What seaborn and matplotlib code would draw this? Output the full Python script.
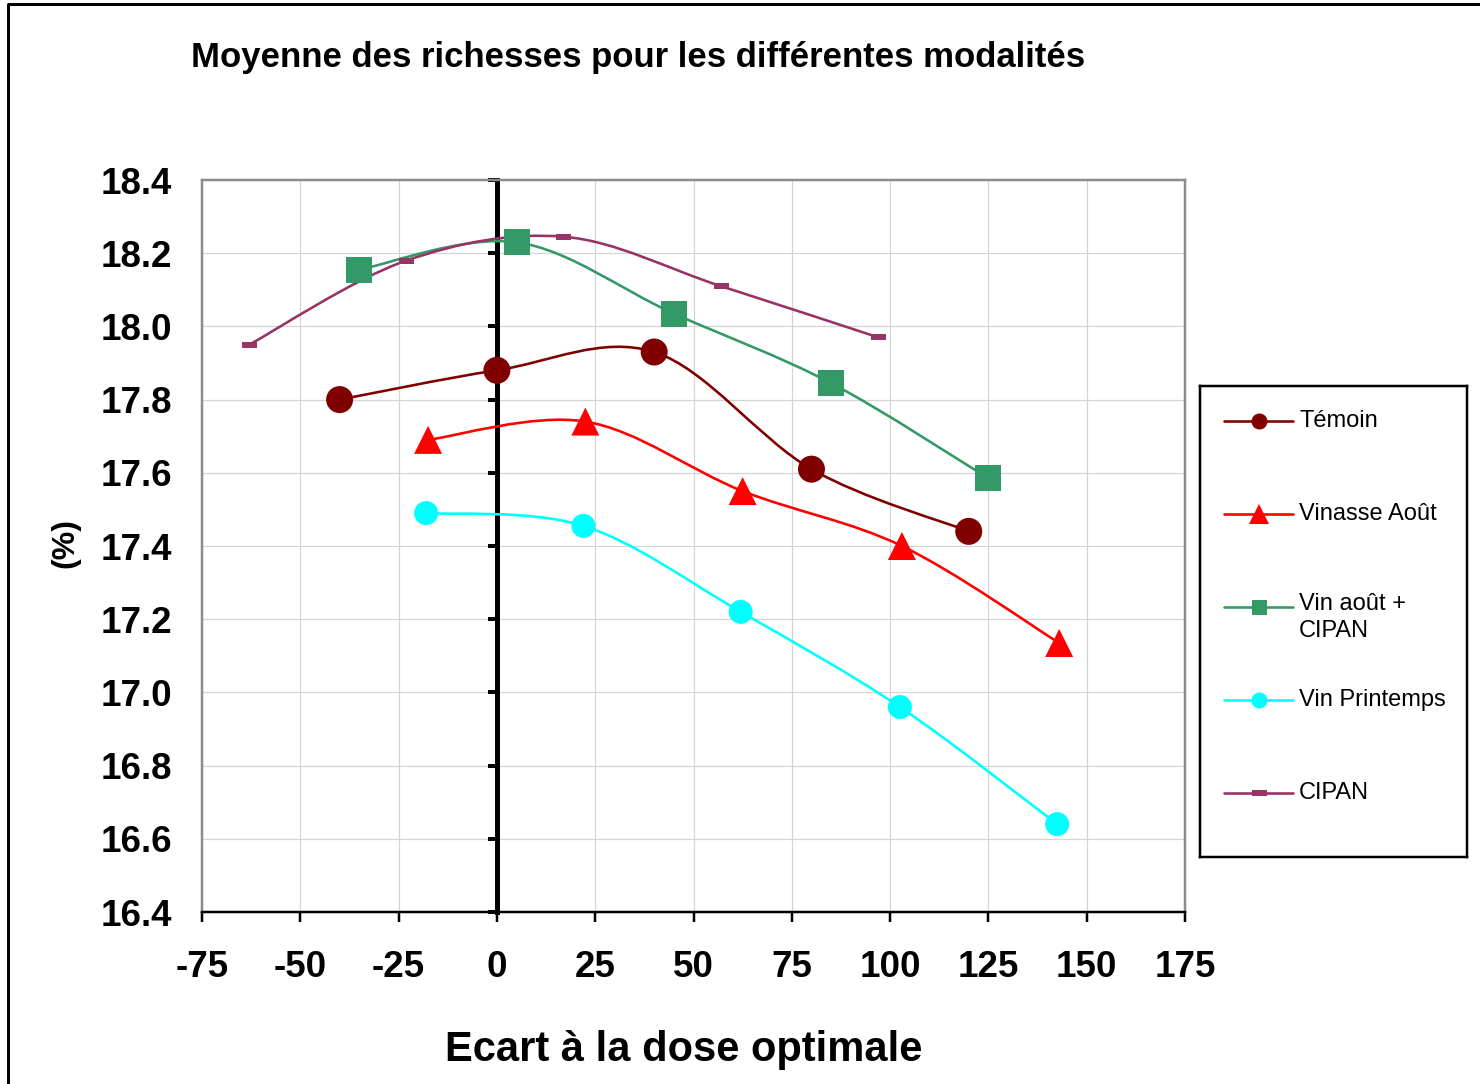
import numpy as np
import pandas as pd
import seaborn as sns
import matplotlib
matplotlib.use("Agg")
import matplotlib.pyplot as plt
from matplotlib.path import Path
from matplotlib.patches import PathPatch
from matplotlib.lines import Line2D
from matplotlib.markers import MarkerStyle

# --- data -----------------------------------------------------------------
series_names = ["Témoin", "Vinasse Août", "Vin août +\nCIPAN", "Vin Printemps", "CIPAN"]

temoin_x = [-40, 0, 40, 80, 120]
temoin_y = [17.80, 17.88, 17.93, 17.61, 17.44]

vinasse_x = [-17.5, 22.5, 62.5, 103, 143]
vinasse_y = [17.69, 17.74, 17.55, 17.40, 17.135]

vin_cipan_x = [-35, 5, 45, 85, 125]
vin_cipan_y = [18.155, 18.23, 18.035, 17.845, 17.585]

printemps_x = [-18, 22, 62, 102.5, 142.5]
printemps_y = [17.49, 17.455, 17.22, 16.96, 16.64]

cipan_x = [-63, -23, 17, 57, 97]
cipan_y = [17.95, 18.18, 18.245, 18.11, 17.97]

x_ticks = [-75, -50, -25, 0, 25, 50, 75, 100, 125, 150, 175]
y_ticks = [16.4, 16.6, 16.8, 17.0, 17.2, 17.4, 17.6, 17.8, 18.0, 18.2, 18.4]

# --- style ------------------------------------------------------------------
sns.set_style("white")
plt.rcParams["font.family"] = ["Liberation Sans", "DejaVu Sans"]
plt.rcParams.update({
    "text.color": "black",
    "axes.labelcolor": "black",
    "xtick.color": "black",
    "ytick.color": "black",
    "axes.unicode_minus": False,
})

PX = 72 / 100  # points per pixel at dpi=100

dash_marker = MarkerStyle(Path([(-1, -0.4), (1, -0.4), (1, 0.4), (-1, 0.4), (-1, -0.4)],
                               [Path.MOVETO, Path.LINETO, Path.LINETO, Path.LINETO, Path.CLOSEPOLY]))

styles = [
    dict(color="#800000", marker="o", ms=27),
    dict(color="#FF0000", marker="^", ms=28),
    dict(color="#339966", marker="s", ms=26),
    dict(color="#00FFFF", marker="o", ms=24),
    dict(color="#993366", marker=dash_marker, ms=15),
]
legend_ms = [16, 20, 15, 16, 15]

xs = [temoin_x, vinasse_x, vin_cipan_x, printemps_x, cipan_x]
ys = [temoin_y, vinasse_y, vin_cipan_y, printemps_y, cipan_y]

df = pd.concat(
    [pd.DataFrame({"serie": n, "x": x, "y": y}) for n, x, y in zip(series_names, xs, ys)],
    ignore_index=True,
)


def smooth_path(x, y):
    """Cubic Bezier path through the points (Catmull-Rom tangents)."""
    p = np.column_stack([x, y]).astype(float)
    ext = np.vstack([p[0], p, p[-1]])
    verts = [p[0]]
    codes = [Path.MOVETO]
    for i in range(len(p) - 1):
        p0, p1, p2, p3 = ext[i], ext[i + 1], ext[i + 2], ext[i + 3]
        c1 = p1 + (p2 - p0) / 6.0
        c2 = p2 - (p3 - p1) / 6.0
        verts += [c1, c2, p2]
        codes += [Path.CURVE4] * 3
    return Path(verts, codes)


# --- figure -----------------------------------------------------------------
fig = plt.figure(figsize=(14.8, 10.84), dpi=100)
ax = fig.add_axes([202 / 1480, 1 - 912 / 1084, 983 / 1480, 732 / 1084])

ax.set_xlim(-75, 175)
ax.set_ylim(16.4, 18.4)
ax.set_xticks(x_ticks)
ax.set_yticks(y_ticks)
ax.set_yticklabels([f"{v:.1f}" for v in y_ticks])
ax.grid(True, color="#d4d4d4", linewidth=1.2 * PX)
ax.set_axisbelow(True)

for side in ["left", "top", "right"]:
    ax.spines[side].set_color("#8c8c8c")
    ax.spines[side].set_linewidth(2.5 * PX)
ax.spines["bottom"].set_color("black")
ax.spines["bottom"].set_linewidth(2.5 * PX)

ax.tick_params(axis="x", bottom=True, direction="out", length=10 * PX, width=2.5 * PX,
               pad=28 * PX, labelsize=26.5, colors="black")
ax.tick_params(axis="y", left=False, length=0, pad=30 * PX, labelsize=26.5, colors="black")
for lab in ax.get_xticklabels() + ax.get_yticklabels():
    lab.set_fontweight("bold")

# vertical axis crossing at x = 0
sec = ax.secondary_yaxis(0, transform=ax.transData)
sec.set_zorder(2)
for side in ["left", "right"]:
    sec.spines[side].set_linewidth(5 * PX)
    sec.spines[side].set_color("black")
sec.set_yticks(y_ticks)
sec.tick_params(axis="y", left=True, right=False, direction="out", length=9 * PX,
                width=4 * PX, color="black", labelleft=False, labelright=False)

# smoothed lines + markers
for i, (name, st) in enumerate(zip(series_names, styles)):
    sub = df[df["serie"] == name]
    ax.add_patch(PathPatch(smooth_path(sub["x"], sub["y"]), facecolor="none",
                           edgecolor=st["color"], linewidth=2.6 * PX, zorder=3 + i))
    sns.scatterplot(data=sub, x="x", y="y", ax=ax, marker=st["marker"],
                    s=(st["ms"] * PX) ** 2, color=st["color"], edgecolor="none",
                    linewidth=0, zorder=10 + i, legend=False)

ax.set_xlabel("Ecart à la dose optimale", fontsize=30, fontweight="bold", color="black")
ax.xaxis.set_label_coords((684 - 202) / 983, (912 - 1050) / 732)
ax.xaxis.label.set_va("center")
ax.set_ylabel("(%)", fontsize=23, fontweight="bold", color="black")
ax.yaxis.set_label_coords((65 - 202) / 983, (912 - 543) / 732)
ax.yaxis.label.set_va("center")

fig.text(638 / 1480, 1 - 57 / 1084, "Moyenne des richesses pour les différentes modalités",
         ha="center", va="center", fontsize=25, fontweight="bold", color="black")

# outer chart border (left and top edges)
fig.add_artist(Line2D([8 / 1480, 8 / 1480, 1.0], [0.0, 1 - 4 / 1084, 1 - 4 / 1084],
                      transform=fig.transFigure, color="black", linewidth=3 * PX))

# legend panel
lg = fig.add_axes([1200 / 1480, 1 - 857 / 1084, 267 / 1480, 471 / 1084])
lg.set_xlim(0, 267)
lg.set_ylim(471, 0)
lg.set_xticks([])
lg.set_yticks([])
for sp in lg.spines.values():
    sp.set_color("black")
    sp.set_linewidth(2.5 * PX)

entry_y = [35, 128, 221, 314, 407]
for name, st, ms, yy in zip(series_names, styles, legend_ms, entry_y):
    lg.add_line(Line2D([24, 93], [yy, yy], color=st["color"], linewidth=2.6 * PX))
    lg.add_line(Line2D([59], [yy], color=st["color"], marker=st["marker"],
                       markersize=ms * PX, markeredgewidth=0, linestyle="none"))
    if "\n" in name:
        lg.text(99, yy - 14, name, ha="left", va="top", fontsize=17, linespacing=1.3,
                color="black")
    else:
        lg.text(99, yy, name, ha="left", va="center", fontsize=17, color="black")

fig.savefig("out.png", dpi=100)
